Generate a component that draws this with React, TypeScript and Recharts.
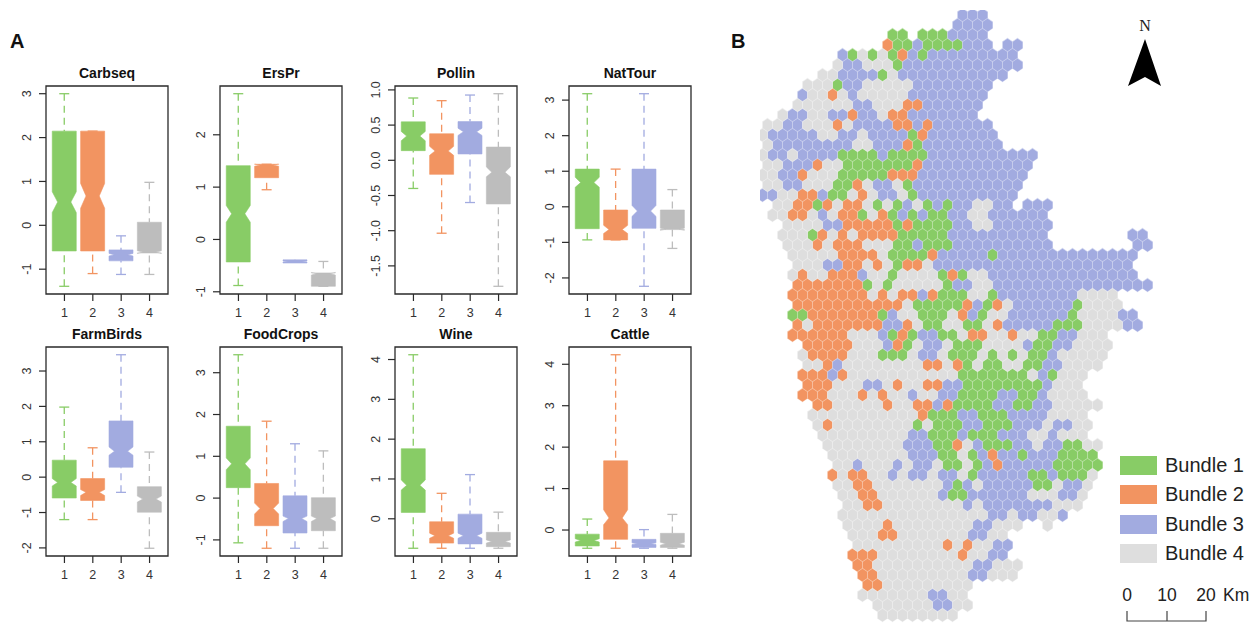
import React from "react";
import { ComposedChart, ScatterChart, Bar, Scatter, XAxis, YAxis, ReferenceArea, Legend } from "recharts";

const bundles = ["Bundle 1", "Bundle 2", "Bundle 3", "Bundle 4"];
const boxColors = ["#88CC66", "#F29461", "#A2ABE0", "#BDBDBD"];
const mapColors = ["#88CC66", "#F29461", "#A2ABE0", "#DEDEDE"];

// each row: whisker low, Q1, notch low, median, notch high, Q3, whisker high
const carbseq = [
  [-1.39, -0.585, 0.29, 0.53, 0.766, 2.147, 3],
  [-1.1, -0.585, 0.39, 0.67, 0.955, 2.147, 2.147],
  [-1.12, -0.81, -0.7, -0.67, -0.64, -0.56, -0.24],
  [-1.12, -0.63, -0.64, -0.61, -0.58, 0.07, 0.98],
];
const ersPr = [
  [-0.88, -0.43, 0.33, 0.49, 0.65, 1.41, 2.785],
  [0.95, 1.18, 1.4, 1.42, 1.44, 1.437, 1.437],
  [-0.42, -0.45, -0.43, -0.42, -0.41, -0.39, -0.41],
  [-0.895, -0.895, -0.68, -0.655, -0.63, -0.64, -0.42],
];
const pollin = [
  [-0.4, 0.137, 0.278, 0.344, 0.41, 0.546, 0.885],
  [-1.036, -0.2, 0.07, 0.132, 0.198, 0.377, 0.847],
  [-0.6, 0.09, 0.353, 0.405, 0.457, 0.55, 0.927],
  [-1.79, -0.62, -0.235, -0.17, -0.094, 0.188, 0.946],
];
const natTour = [
  [-0.93, -0.615, 0.55, 0.68, 0.83, 1.06, 3.18],
  [-0.93, -0.93, -0.75, -0.64, -0.52, -0.09, 1.06],
  [-2.235, -0.605, -0.27, -0.12, 0.04, 1.06, 3.18],
  [-1.17, -0.64, -0.66, -0.63, -0.6, -0.09, 0.484],
];
const farmBirds = [
  [-1.2, -0.59, -0.25, -0.15, -0.04, 0.48, 1.98],
  [-1.2, -0.66, -0.52, -0.43, -0.35, -0.04, 0.83],
  [-0.43, 0.28, 0.62, 0.73, 0.855, 1.59, 3.46],
  [-2.01, -0.99, -0.705, -0.62, -0.535, -0.27, 0.71],
];
const foodCrops = [
  [-1.07, 0.25, 0.68, 0.82, 0.96, 1.72, 3.43],
  [-1.2, -0.66, -0.38, -0.25, -0.12, 0.35, 1.84],
  [-1.2, -0.835, -0.56, -0.49, -0.43, 0.055, 1.3],
  [-1.2, -0.78, -0.56, -0.49, -0.43, 0.01, 1.13],
];
const wine = [
  [-0.74, 0.16, 0.72, 0.84, 0.975, 1.76, 4.12],
  [-0.74, -0.61, -0.49, -0.425, -0.36, -0.075, 0.64],
  [-0.74, -0.63, -0.49, -0.425, -0.36, 0.117, 1.11],
  [-0.74, -0.7, -0.61, -0.57, -0.53, -0.34, 0.167],
];
const cattle = [
  [-0.44, -0.385, -0.29, -0.25, -0.21, -0.1, 0.265],
  [-0.44, -0.225, 0.13, 0.29, 0.49, 1.67, 4.23],
  [-0.44, -0.42, -0.35, -0.33, -0.31, -0.225, 0.01],
  [-0.44, -0.42, -0.365, -0.33, -0.295, -0.08, 0.377],
];

const titles = ["Carbseq", "ErsPr", "Pollin", "NatTour", "FarmBirds", "FoodCrops", "Wine", "Cattle"];
const stats = [carbseq, ersPr, pollin, natTour, farmBirds, foodCrops, wine, cattle];
const yTicks = [
  [-1, 0, 1, 2, 3],
  [-1, 0, 1, 2],
  [-1.5, -1, -0.5, 0, 0.5, 1],
  [-2, -1, 0, 1, 2, 3],
  [-2, -1, 0, 1, 2, 3],
  [-1, 0, 1, 2, 3],
  [0, 1, 2, 3, 4],
  [0, 1, 2, 3, 4],
];
const xTicks = [1, 2, 3, 4];
const panelLeft = [46, 220, 395, 569];
const panelTop = [86, 347];

const mapRows = [
  "....................333",
  "...................3333",
  ".............11.1113333",
  "............21131111333.33",
  "........314141231333333333",
  ".......4334441333333333333",
  "......4433331433333333333",
  "....4441334444433333333",
  "....3442434444433333333",
  "...4444443344422333333",
  "..43344332334223333333",
  "44334442433332232333333",
  "433333443343333123333333",
  "433333333443332133333333",
  "4334333311113111133333333333",
  "443332441111111233333333333",
  "443324441111122233333333333",
  "44334441124334133333333333",
  "33442231142433413333333333",
  ".442212422414134131334433.333",
  ".4422434221421313113344333333",
  "..444433222221211113344333333",
  "..444124242222111113333333333........33",
  "..444242224441131113333333333........33",
  "...44444222241111233333133333333333333",
  "...4443322424122433333333333333333333",
  "...42442223441444412144333333333333333",
  "...222222214144444133443333333333333333",
  "...222222224242232111441333333334444",
  "...222222222224111112312433333314444",
  "...11222222213441114231443333331444433",
  "...24222222233241144114233333111444433",
  "...22222244431213311422442441133444",
  "....2222244432143341114444311334444",
  "....4222244411143341114141411344444",
  "....442344444444224214114411334444",
  "....22232444444444441111111431444",
  "....2224443342442233111111113444",
  "....22244424244344331111331134444",
  ".....22444442442232111133113344444",
  ".....4444444444421113311133334444",
  ".....4244444444141113311133343344",
  "......444444444331113111333443444",
  "......4444444433311243111334331144",
  ".......444444443331141323313331111",
  ".......443444343341141323333311111",
  ".......242244343343341333331131114",
  ".......44224444444313433333114334",
  "........4422444444311333333444334",
  "........442244444444343333333444",
  "........44444444444444433433443",
  "........444424444444433444..4",
  ".........4442244444443344",
  ".........4444444442424433",
  ".........2224444444424433",
  ".........22444444444433444",
  "..........2244444444433444",
  "..........22444444444",
  "..........44444443344",
  "...........4444443344",
  "............44444444",
];

const mapPoints = mapRows.flatMap((row, r) =>
  row.split("").flatMap((ch, c) =>
    ch === "." ? [] : [{ col: c + 0.5 + (r % 2 ? 0.25 : -0.25), row: r + 0.5, bundle: Number(ch) }]
  )
);

const FONT = "'Liberation Sans', Arial, sans-serif";
const INK = "#2a2a2a";

function BoxShape(props: any) {
  const { x, y, width, height, payload } = props;
  const { low, q1, nl, med, nh, q3, high, bundle } = payload;
  const color = boxColors[bundle - 1];
  const h = Math.abs(height);
  const top = height < 0 ? y + height : y;
  const ppu = h / (high - low);
  const py = (v: number) => top + (high - v) * ppu;
  const cx = x + width / 2;
  const hw = width / 2;
  const waist = hw * 0.55;
  const d = [
    `M${cx - hw},${py(q1)}`,
    `L${cx - hw},${py(nl)}`,
    `L${cx - waist},${py(med)}`,
    `L${cx - hw},${py(nh)}`,
    `L${cx - hw},${py(q3)}`,
    `L${cx + hw},${py(q3)}`,
    `L${cx + hw},${py(nh)}`,
    `L${cx + waist},${py(med)}`,
    `L${cx + hw},${py(nl)}`,
    `L${cx + hw},${py(q1)}`,
    "Z",
  ].join(" ");
  const cap = 5;
  return (
    <g>
      <line x1={cx} x2={cx} y1={py(high)} y2={py(q3)} stroke={color} strokeWidth={1.3} strokeDasharray="7 5" />
      <line x1={cx} x2={cx} y1={py(low)} y2={py(q1)} stroke={color} strokeWidth={1.3} strokeDasharray="7 5" />
      <line x1={cx - cap} x2={cx + cap} y1={py(high)} y2={py(high)} stroke={color} strokeWidth={1.3} />
      <line x1={cx - cap} x2={cx + cap} y1={py(low)} y2={py(low)} stroke={color} strokeWidth={1.3} />
      <path d={d} fill={color} stroke={color} strokeWidth={0.6} />
    </g>
  );
}

function YTick(props: any) {
  const { x, y, payload, decimals } = props;
  const label = decimals ? payload.value.toFixed(1) : String(payload.value);
  const bx = x - 6;
  return (
    <text x={bx} y={y} transform={`rotate(-90 ${bx} ${y})`} textAnchor="middle" fontSize={12.5} fill="#333" fontFamily={FONT}>
      {label}
    </text>
  );
}

function Panel({ index }: { index: number }) {
  const col = index % 4;
  const rowIdx = Math.floor(index / 4);
  const rows = stats[index].map((s, i) => ({
    bundle: i + 1,
    low: s[0],
    q1: s[1],
    nl: s[2],
    med: s[3],
    nh: s[4],
    q3: s[5],
    high: s[6],
    range: [s[0], s[6]],
  }));
  const lo = Math.min(...rows.map((r) => r.low));
  const hi = Math.max(...rows.map((r) => r.high));
  const pad = (hi - lo) * 0.04;
  const domain = [lo - pad, hi + pad];
  const plotW = 122;
  const plotH = rowIdx === 0 ? 208 : 209;
  const decimals = titles[index] === "Pollin";
  return (
    <div style={{ position: "absolute", left: panelLeft[col] - 46, top: panelTop[rowIdx] - 30 }}>
      <ComposedChart
        width={46 + plotW + 6}
        height={30 + plotH + 32}
        data={rows}
        margin={{ top: 30, right: 6, bottom: 0, left: 0 }}
      >
        <XAxis
          type="number"
          dataKey="bundle"
          domain={[0.35, 4.65]}
          ticks={xTicks}
          interval={0}
          allowDataOverflow
          tickSize={7}
          tickMargin={7}
          height={32}
          axisLine={false}
          tickLine={{ stroke: INK, strokeWidth: 1.2 }}
          tick={{ fontSize: 12.5, fill: "#333", fontFamily: FONT }}
        />
        <YAxis
          type="number"
          domain={domain}
          ticks={yTicks[index]}
          interval={0}
          allowDataOverflow
          width={46}
          tickSize={7}
          tickMargin={2}
          axisLine={false}
          tickLine={{ stroke: INK, strokeWidth: 1.2 }}
          tick={<YTick decimals={decimals} />}
        />
        <Bar dataKey="range" barSize={24} isAnimationActive={false} shape={<BoxShape />} />
        <ReferenceArea
          x1={0.35}
          x2={4.65}
          y1={domain[0]}
          y2={domain[1]}
          fill="none"
          fillOpacity={0}
          stroke={INK}
          strokeWidth={1.3}
          ifOverflow="visible"
          label={{
            value: titles[index],
            position: "top",
            offset: 8,
            fill: "#111",
            fontSize: 14,
            fontWeight: 700,
            fontFamily: FONT,
          }}
        />
      </ComposedChart>
    </div>
  );
}

function MapCell(props: any) {
  const { cx, cy, fill } = props;
  const pts = [
    [cx, cy - 6.67],
    [cx + 5, cy - 3.33],
    [cx + 5, cy + 3.33],
    [cx, cy + 6.67],
    [cx - 5, cy + 3.33],
    [cx - 5, cy - 3.33],
  ]
    .map((p) => p.join(","))
    .join(" ");
  return <polygon points={pts} fill={fill} stroke={fill} strokeWidth={0.4} />;
}

function MapCellEdge(props: any) {
  const { cx, cy } = props;
  const d = `M${cx - 5},${cy + 3.33} L${cx - 5},${cy - 3.33} L${cx},${cy - 6.67} L${cx + 5},${cy - 3.33}`;
  return <path d={d} fill="none" stroke="#ffffff" strokeOpacity={0.55} strokeWidth={0.6} />;
}

function LegendContent() {
  return (
    <div style={{ fontFamily: FONT, fontSize: 20, color: "#222" }}>
      {bundles.map((b, i) => (
        <div key={b} style={{ position: "absolute", left: 0, top: i * 29.3, height: 19, width: 130 }}>
          <div style={{ position: "absolute", left: 0, top: 0, width: 37, height: 19, background: mapColors[i] }} />
          <div style={{ position: "absolute", left: 45, top: -1, lineHeight: "21px", whiteSpace: "nowrap" }}>{b}</div>
        </div>
      ))}
    </div>
  );
}

function MapChart() {
  return (
    <div style={{ position: "absolute", left: 760, top: 10 }}>
      <ScatterChart width={494} height={613} margin={{ top: 0, right: 0, bottom: 3, left: 0 }}>
        <XAxis type="number" dataKey="col" domain={[0, 39]} hide />
        <YAxis type="number" dataKey="row" domain={[0, 61]} reversed hide />
        {bundles.map((b, i) => (
          <Scatter
            key={b}
            name={b}
            data={mapPoints.filter((p) => p.bundle === i + 1)}
            fill={mapColors[i]}
            isAnimationActive={false}
            shape={<MapCell />}
          />
        ))}
        <Scatter
          name="edges"
          data={mapPoints}
          fill="none"
          legendType="none"
          isAnimationActive={false}
          shape={<MapCellEdge />}
        />
        <Legend
          layout="vertical"
          align="right"
          verticalAlign="middle"
          content={<LegendContent />}
          wrapperStyle={{ position: "absolute", left: 360, top: 446, width: 104, height: 110 }}
        />
      </ScatterChart>
    </div>
  );
}

function Decorations() {
  const c = "#444";
  return (
    <svg width={1254} height={623} style={{ position: "absolute", left: 0, top: 0, pointerEvents: "none" }}>
      <text x={10} y={48} fontFamily={FONT} fontWeight={700} fontSize={20} fill="#111">A</text>
      <text x={731} y={48} fontFamily={FONT} fontWeight={700} fontSize={20} fill="#111">B</text>
      <text x={1145} y={31} textAnchor="middle" fontFamily="'Liberation Serif', serif" fontSize={16} fill="#222">N</text>
      <path d="M1145,39 L1128,86 L1145,77 L1161,86 Z" fill="#000" />
      <g fontFamily={FONT} fontSize={17.5} fill="#222">
        <text x={1127} y={601} textAnchor="middle">0</text>
        <text x={1167} y={601} textAnchor="middle">10</text>
        <text x={1206} y={601} textAnchor="middle">20</text>
        <text x={1223} y={601}>Km</text>
      </g>
      <path d="M1127,611 V621 H1206 V611 M1167,611 V621" fill="none" stroke={c} strokeWidth={1.2} />
    </svg>
  );
}

export default function App() {
  return (
    <div style={{ position: "absolute", left: 0, top: 0, width: 1254, height: 623, background: "#fff", overflow: "hidden" }}>
      {titles.map((t, i) => (
        <Panel key={t} index={i} />
      ))}
      <MapChart />
      <Decorations />
    </div>
  );
}
